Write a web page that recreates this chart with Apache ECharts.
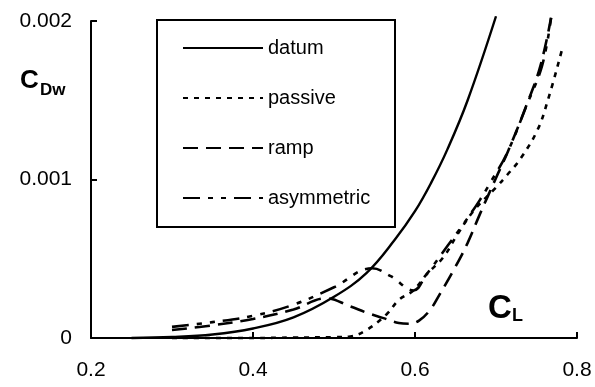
<!DOCTYPE html>
<html>
<head>
<meta charset="utf-8">
<script src="https://cdn.jsdelivr.net/npm/echarts@6/dist/echarts.min.js"></script>
<style>
html,body{margin:0;padding:0;background:#fff;}
#chart{width:595px;height:387px;}
</style>
</head>
<body>
<div id="chart"></div>
<script>
// ---- data ----
const seriesNames = ['datum', 'passive', 'ramp', 'asymmetric'];

const datumCL = [0.25, 0.30, 0.35, 0.40, 0.45, 0.50, 0.54, 0.575, 0.60, 0.62, 0.64, 0.665, 0.70];
const datumCD = [0, 0.000006, 0.000022, 0.00006, 0.00013, 0.00026, 0.00041, 0.00062, 0.00080, 0.00098, 0.00119, 0.00150, 0.00203];

const passiveCL = [0.30, 0.40, 0.45, 0.50, 0.52, 0.54, 0.565, 0.58, 0.598, 0.614, 0.635, 0.652, 0.672, 0.70, 0.714, 0.73, 0.751, 0.764, 0.781];
const passiveCD = [0, 0, 0.000003, 0.000005, 0.00001, 0.00005, 0.00015, 0.00024, 0.00030, 0.00040, 0.00051, 0.00065, 0.00080, 0.00095, 0.00103, 0.00113, 0.00131, 0.00150, 0.00181];

const rampCL = [0.30, 0.35, 0.40, 0.45, 0.49, 0.52, 0.54, 0.56, 0.58, 0.592, 0.605, 0.619, 0.631, 0.65, 0.665, 0.68, 0.70, 0.715, 0.74, 0.755, 0.768];
const rampCD = [0.00005, 0.00008, 0.00012, 0.00018, 0.00025, 0.00020, 0.00016, 0.000127, 0.000095, 0.00009, 0.00011, 0.00018, 0.00028, 0.00045, 0.00060, 0.00078, 0.00101, 0.00118, 0.00150, 0.00172, 0.00202];

const asymCL = [0.30, 0.35, 0.40, 0.45, 0.50, 0.547, 0.57, 0.598, 0.614, 0.64, 0.66, 0.68, 0.693, 0.714, 0.738, 0.757, 0.768];
const asymCD = [0.00007, 0.00010, 0.00014, 0.00021, 0.00032, 0.00044, 0.00039, 0.00030, 0.00040, 0.00058, 0.00072, 0.00087, 0.00098, 0.00117, 0.00147, 0.00172, 0.00202];

const xTicks = [0.2, 0.4, 0.6, 0.8];
const yTicks = [0, 0.001, 0.002];

function pairs(xs, ys) { return xs.map((x, i) => [x, ys[i]]); }

const FONT = '"Liberation Sans", Arial, sans-serif';
const chart = echarts.init(document.getElementById('chart'), null, {renderer: 'canvas'});

const dashes = {
  datum: 'solid',
  passive: [5, 6],
  ramp: [15, 8],
  asymmetric: [17, 8, 5, 8, 5, 8]
};
const dataMap = {
  datum: pairs(datumCL, datumCD),
  passive: pairs(passiveCL, passiveCD),
  ramp: pairs(rampCL, rampCD),
  asymmetric: pairs(asymCL, asymCD)
};

chart.setOption({
  animation: false,
  backgroundColor: '#fff',
  grid: {left: 91, right: 18, top: 21, bottom: 49},
  xAxis: {
    type: 'value', min: xTicks[0], max: xTicks[xTicks.length - 1], interval: 0.2,
    axisLine: {lineStyle: {color: '#000', width: 2}},
    axisTick: {inside: true, length: 6, lineStyle: {color: '#000', width: 2}},
    axisLabel: {color: '#000', fontSize: 21, fontFamily: FONT, margin: 22,
      formatter: v => v.toFixed(1)},
    splitLine: {show: false}
  },
  yAxis: {
    type: 'value', min: yTicks[0], max: yTicks[yTicks.length - 1], interval: 0.001,
    axisLine: {show: true, lineStyle: {color: '#000', width: 2}},
    axisTick: {show: true, inside: true, length: 6, lineStyle: {color: '#000', width: 2}},
    axisLabel: {color: '#000', fontSize: 21, fontFamily: FONT, margin: 19,
      formatter: v => v === 0 ? '0' : v.toFixed(3)},
    splitLine: {show: false}
  },
  legend: {
    orient: 'vertical', left: 177, top: 33,
    itemWidth: 80, itemHeight: 20, itemGap: 30,
    itemStyle: {opacity: 0},
    lineStyle: {opacity: 1},
    data: seriesNames,
    textStyle: {color: '#000', fontSize: 20, fontFamily: FONT}
  },
  graphic: [
    {type: 'rect', shape: {x: 157, y: 20, width: 238, height: 207},
      style: {fill: 'none', stroke: '#000', lineWidth: 2}, z: 10},
    {type: 'text', left: 20, top: 68, style: {text: 'C', font: 'bold 26px ' + FONT, fill: '#000'}},
    {type: 'text', left: 40, top: 82, style: {text: 'Dw', font: 'bold 17px ' + FONT, fill: '#000'}},
    {type: 'text', left: 488, top: 292, style: {text: 'C', font: 'bold 33px ' + FONT, fill: '#000'}},
    {type: 'text', left: 512, top: 307, style: {text: 'L', font: 'bold 18px ' + FONT, fill: '#000'}}
  ],
  series: seriesNames.map(n => ({
    name: n, type: 'line', data: dataMap[n],
    showSymbol: false, symbol: 'none', clip: false,
    smooth: 0.4,
    lineStyle: {color: '#000', width: n === 'datum' ? 2.4 : 2.6, type: dashes[n]},
    itemStyle: {color: '#000'}
  }))
});
</script>
</body>
</html>
